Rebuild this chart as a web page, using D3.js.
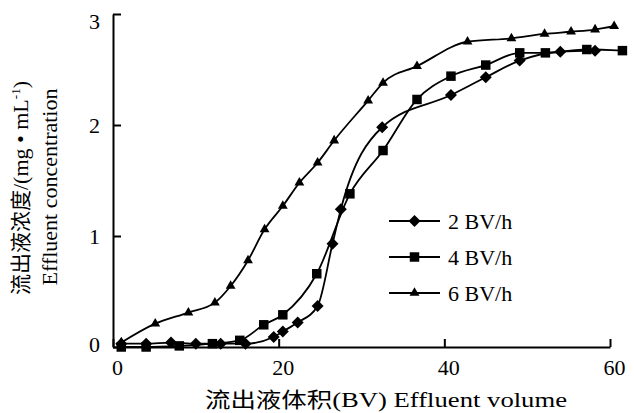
<!DOCTYPE html>
<html>
<head>
<meta charset="utf-8">
<script src="https://cdn.jsdelivr.net/npm/d3@7"></script>
<style>
  body { margin: 0; background: #fff; }
  text, tspan { font-family: "Liberation Serif", serif; fill: #000; }
  .cjk { font-family: "Noto Sans CJK SC", sans-serif; }
</style>
</head>
<body>
<svg id="chart" width="634" height="413"></svg>
<script>
// Size of the picture and the plot area inside it
const w = 634;
const h = 413;
const margin = {top: 14, right: 24, bottom: 66, left: 113};

// Effluent volume (BV) and concentration (mg/mL) for each flow rate
const x2 = [1, 4, 7, 10, 13, 16, 19.4, 20.5, 22.3, 24.7, 26.5, 27.5, 32.5, 40.8, 45, 49.1, 54, 58.2];
const y2 = [0.03, 0.03, 0.04, 0.03, 0.03, 0.03, 0.09, 0.14, 0.22, 0.37, 0.93, 1.24, 1.98, 2.27, 2.43, 2.58, 2.66, 2.67];
const x4 = [1, 4, 8, 12, 15.3, 18.2, 20.5, 24.6, 28.6, 32.6, 36.7, 40.8, 45, 49.1, 52.2, 57.2, 61.5];
const y4 = [0, 0, 0.01, 0.03, 0.06, 0.2, 0.29, 0.66, 1.38, 1.77, 2.23, 2.44, 2.54, 2.65, 2.65, 2.68, 2.67];
const x6 = [1, 5.1, 9.1, 12.3, 14.2, 16.3, 18.3, 20.5, 22.5, 24.7, 26.7, 30.8, 32.6, 36.7, 42.8, 48.1, 52.1, 55.3, 58.2, 60.5];
const y6 = [0.04, 0.21, 0.31, 0.40, 0.55, 0.78, 1.06, 1.27, 1.48, 1.66, 1.86, 2.22, 2.38, 2.53, 2.75, 2.78, 2.82, 2.84, 2.86, 2.89];

const seriesNames = ["2 BV/h", "4 BV/h", "6 BV/h"];
const xTicks = [0, 20, 40, 60];
const yTicks = [0, 1, 2, 3];

// glue the x and y lists of every series together
const series = [
  {name: seriesNames[0], marker: "diamond", pts: x2.map((d, i) => ({x: d, y: y2[i]}))},
  {name: seriesNames[1], marker: "square", pts: x4.map((d, i) => ({x: d, y: y4[i]}))},
  {name: seriesNames[2], marker: "triangle", pts: x6.map((d, i) => ({x: d, y: y6[i]}))}
];

const svg = d3.select("#chart");
const g = svg.append("g").attr("transform", `translate(${margin.left},${margin.top})`);
const iw = w - margin.left - margin.right;
const ih = h - margin.top - margin.bottom;

const x = d3.scaleLinear().domain([0, 60]).range([0, iw]);
const y = d3.scaleLinear().domain([0, 3]).range([ih, 0]);

// marker shapes: diamond is a square turned 45 degrees
const symbolPath = {
  diamond: d3.symbol().type(d3.symbolSquare).size(72)(),
  square: d3.symbol().type(d3.symbolSquare).size(90)(),
  triangle: d3.symbol().type(d3.symbolTriangle).size(42)()
};
const markerRotate = {diamond: 45, square: 0, triangle: 0};

// axes, ticks point into the plot
const xAxis = g.append("g")
  .attr("transform", `translate(0,${ih})`)
  .call(d3.axisBottom(x).tickValues(xTicks).tickFormat(d3.format("d"))
    .tickSize(-8).tickSizeOuter(0).tickPadding(12));
xAxis.selectAll("text").attr("font-size", 22).attr("dx", 4);

const yAxis = g.append("g")
  .call(d3.axisLeft(y).tickValues(yTicks).tickFormat(d3.format("d"))
    .tickSize(-8).tickSizeOuter(0).tickPadding(13));
yAxis.selectAll("text").attr("font-size", 22);
// the end labels sit a little inside, like in the original
yAxis.selectAll(".tick text").attr("dy", d => d === 3 ? "0.68em" : d === 0 ? "0.2em" : "0.32em");

[xAxis, yAxis].forEach(a => {
  a.attr("font-family", null).attr("font-size", null);
  a.selectAll("path, line").attr("stroke", "#000").attr("stroke-width", 2);
});

const line = d3.line()
  .x(d => x(d.x))
  .y(d => y(d.y))
  .curve(d3.curveMonotoneX);

const sg = g.selectAll(".series")
  .data(series)
  .enter()
  .append("g")
  .attr("class", "series");

sg.append("path")
  .attr("d", d => line(d.pts))
  .attr("fill", "none")
  .attr("stroke", "#000")
  .attr("stroke-width", 1.8);

sg.each(function(s) {
  d3.select(this).selectAll("path.mk")
    .data(s.pts)
    .enter()
    .append("path")
    .attr("class", "mk")
    .attr("d", symbolPath[s.marker])
    .attr("transform", d => `translate(${x(d.x)},${y(d.y)}) rotate(${markerRotate[s.marker]})`)
    .attr("fill", "#000");
});

// legend
const legend = svg.append("g").attr("transform", "translate(389,221)");
const lg = legend.selectAll("g")
  .data(series)
  .enter()
  .append("g")
  .attr("transform", (d, i) => `translate(0,${i * 36})`);
lg.append("line").attr("x1", 0).attr("x2", 51).attr("stroke", "#000").attr("stroke-width", 1.8);
lg.append("path")
  .attr("d", d => symbolPath[d.marker])
  .attr("transform", d => `translate(25.5,0) rotate(${markerRotate[d.marker]})`);
lg.append("text")
  .attr("x", 59)
  .attr("dy", "0.35em")
  .attr("font-size", 22)
  .text(d => d.name);

// axis titles, Chinese part in a CJK font, the rest in serif
const xTitle = svg.append("text")
  .attr("x", 205)
  .attr("y", 407)
  .attr("font-size", 22)
  .attr("textLength", 362)
  .attr("lengthAdjust", "spacingAndGlyphs");
xTitle.append("tspan").attr("class", "cjk").attr("font-size", 21).text("流出液体积");
xTitle.append("tspan").text("(BV) Effluent volume");

const yTitle = svg.append("text")
  .attr("transform", "translate(28,295) rotate(-90)")
  .attr("font-size", 22);
yTitle.append("tspan").attr("class", "cjk").attr("font-size", 21).text("流出液浓度");
yTitle.append("tspan").text("/(mg • mL");
yTitle.append("tspan").attr("font-size", 13).attr("dy", -8).text("-1");
yTitle.append("tspan").attr("dy", 8).text(")");

svg.append("text")
  .attr("transform", "translate(57,187) rotate(-90)")
  .attr("text-anchor", "middle")
  .attr("font-size", 22)
  .text("Effluent concentration");
</script>
</body>
</html>
